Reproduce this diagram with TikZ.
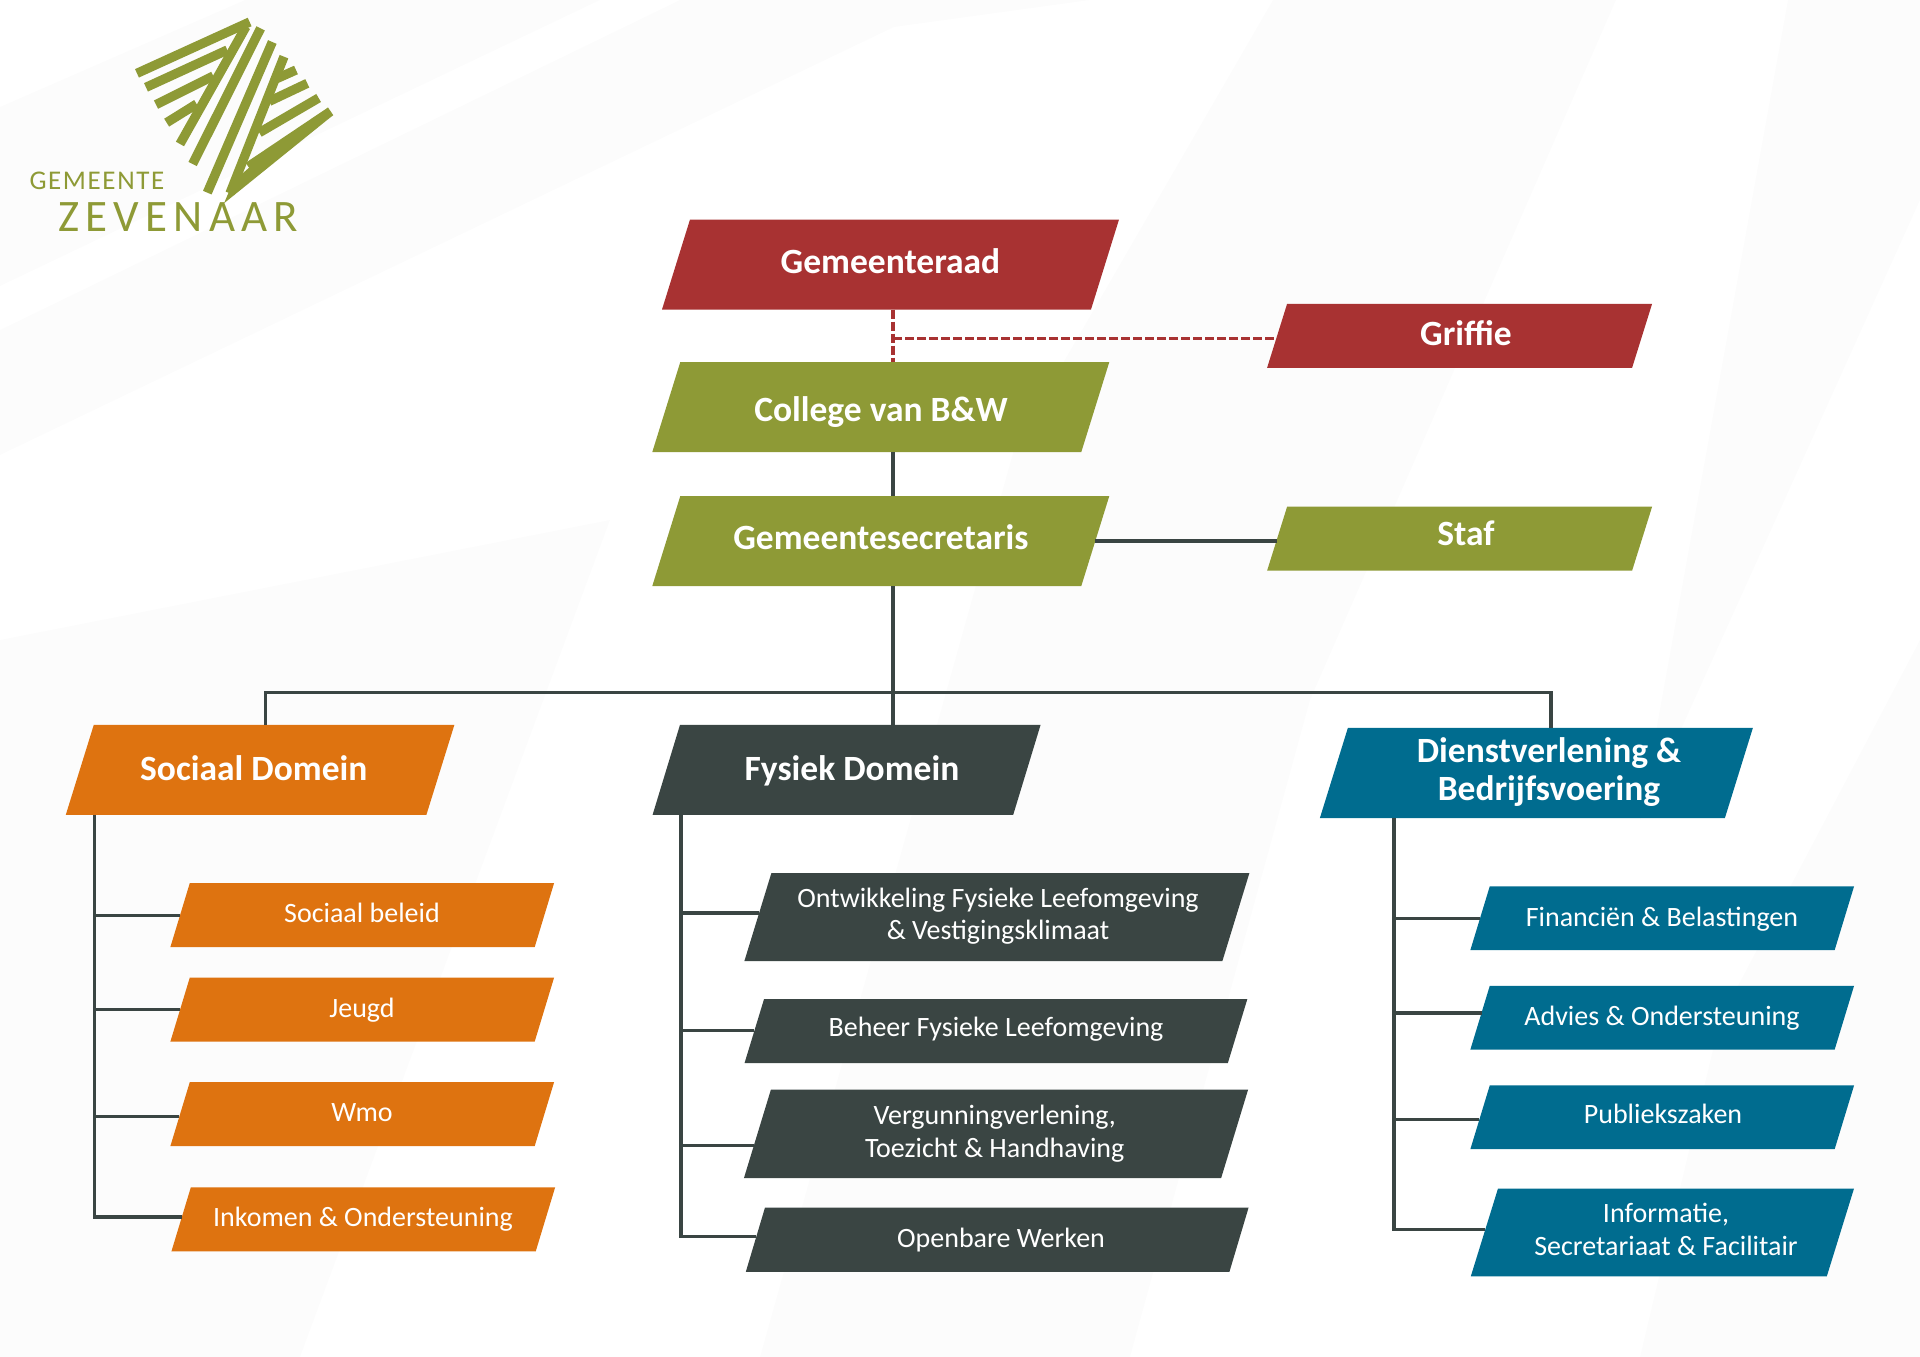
\documentclass[tikz,border=0pt]{standalone}
\usepackage{fontspec}
\setmainfont{Carlito}
\newfontfamily\logofont[LetterSpace=6]{Carlito}
\usetikzlibrary{calc}
\definecolor{raadred}{HTML}{A83232}
\definecolor{collegegreen}{HTML}{8E9A36}
\definecolor{socialorange}{HTML}{DE7310}
\definecolor{physicaldark}{HTML}{3A4543}
\definecolor{servicesblue}{HTML}{006C8F}
\definecolor{bandgrey}{HTML}{FCFCFC}
\tikzset{
	slantnode/.style={inner sep=0pt,outer sep=0pt},
	headtext/.style={text=white,align=center,font=\fontsize{35.5}{38}\selectfont\bfseries},
	subtext/.style={text=white,align=center,font=\fontsize{28}{32.5}\selectfont},
	linkline/.style={draw=physicaldark,line width=3.4pt},
	dashline/.style={draw=raadred,line width=3.2pt,dash pattern=on 9pt off 3pt},
	logostrip/.style={draw=collegegreen,line width=9.3pt},
}
\newcommand{\slantbox}[7]{%
	\node[slantnode,minimum width=#5pt,minimum height=#6pt] (#1) at (#3,#4) {};
	\fill[#2] ($(#1.north west)+(#7,0)$) -- ($(#1.north east)+(#7,0)$) -- ($(#1.south east)-(#7,0)$) -- ($(#1.south west)-(#7,0)$) -- cycle;
}
\begin{document}
\begin{tikzpicture}[x=1pt,y=-1pt]
	\useasboundingbox (0,0) rectangle (1920,1357);
	\begin{scope}
		\clip (0,0) rectangle (1920,1357);
		\fill[bandgrey] (245,0) -- (600,0) -- (0,286) -- (0,107) -- cycle;
		\fill[bandgrey] (680,0) -- (1090,0) -- (894,27) -- (0,455) -- (0,330) -- cycle;
		\fill[bandgrey] (1273,0) -- (1616,0) -- (1310,700) -- (1130,1357) -- (760,1357) -- (1015,446) -- cycle;
		\fill[bandgrey] (1788,0) -- (1920,0) -- (1920,200) -- (1640,820) -- cycle;
		\fill[bandgrey] (0,640) -- (610,520) -- (300,1357) -- (0,1357) -- cycle;
		\fill[bandgrey] (1920,640) -- (1920,1357) -- (1640,1357) -- (1720,1020) -- cycle;
	\end{scope}

	\begin{scope}[x=.3333pt,y=-.3333pt]
		\draw[logostrip] (749,66) -- (411,220);
		\draw[logostrip] (682,150) -- (438,262);
		\draw[logostrip] (640,228) -- (468,314);
		\draw[logostrip] (590,312) -- (500,368);
		\draw[logostrip] (738,80) -- (540,432);
		\draw[logostrip] (782,85) -- (578,492);
		\draw[logostrip] (817,126) -- (622,578);
		\draw[logostrip] (852,170) -- (690,580);
		\draw[logostrip] (830,236) -- (888,210);
		\draw[logostrip] (808,304) -- (922,250);
		\draw[logostrip] (778,398) -- (956,294);
		\draw[logostrip] (745,500) -- (992,334);
		\fill[collegegreen] (745,505) -- (1000,345) -- (672,610) -- (700,545) -- cycle;
		\node[anchor=west,inner sep=0pt,text=collegegreen,font=\logofont\fontsize{27}{27}\selectfont] (logotop) at (88,544) {GEMEENTE};
		\node[anchor=west,inner sep=0pt,text=collegegreen,font=\fontsize{45}{45}\selectfont\addfontfeatures{LetterSpace=14}] (logoname) at (174,652) {ZEVENAAR};
	\end{scope}

	\slantbox{raad}{raadred}{890.5}{264.5}{429}{90}{14}
	\slantbox{griffie}{raadred}{1459.6}{335.8}{365}{64}{10}
	\slantbox{college}{collegegreen}{880.8}{407}{429}{90}{14}
	\slantbox{secretaris}{collegegreen}{880.8}{541}{429}{90}{14}
	\slantbox{staf}{collegegreen}{1459.6}{538.7}{365}{64}{10}

	\slantbox{sociaal}{socialorange}{260.1}{769.8}{360.6}{90}{14}
	\slantbox{fysiek}{physicaldark}{846.6}{769.8}{360.6}{90}{13.7}
	\slantbox{dienst}{servicesblue}{1536.4}{772.9}{405}{90.2}{14}

	\slantbox{beleid}{socialorange}{362.2}{915.2}{364.3}{64}{9.7}
	\slantbox{jeugd}{socialorange}{362.2}{1009.7}{364.3}{64}{9.7}
	\slantbox{wmo}{socialorange}{362.2}{1114.2}{364.3}{64}{9.7}
	\slantbox{inkomen}{socialorange}{363.3}{1219.3}{364.3}{64}{9.7}

	\slantbox{ontwikkeling}{physicaldark}{996.9}{917}{478}{88}{13.5}
	\slantbox{beheer}{physicaldark}{995.9}{1031.2}{483.3}{64}{9.75}
	\slantbox{vergunning}{physicaldark}{996}{1133.9}{477.2}{88.6}{13.5}
	\slantbox{openbaar}{physicaldark}{997.2}{1239.7}{483.6}{64.4}{9.6}

	\slantbox{financien}{servicesblue}{1662.2}{918.2}{364.3}{63.8}{9.7}
	\slantbox{advies}{servicesblue}{1662.2}{1017.7}{364.3}{63.8}{9.7}
	\slantbox{publiek}{servicesblue}{1662.2}{1117.3}{364.3}{63.8}{9.7}
	\slantbox{informatie}{servicesblue}{1662.4}{1232.4}{356}{87.8}{13.6}

	\node[headtext] (raadtext) at (890.5,261) {Gemeenteraad};
	\node[headtext] (grifftext) at (1466,333.5) {Griffie};
	\node[headtext] (collegetext) at (881,412) {College van B\&W};
	\node[headtext] (secrtext) at (881,537) {Gemeentesecretaris};
	\node[headtext] (staftext) at (1466,533) {Staf};
	\node[headtext] (sociaaltext) at (253.8,768) {Sociaal Domein};
	\node[headtext] (fysiektext) at (852,770.6) {Fysiek Domein};
	\node[headtext] (diensttext) at (1549,772) {Dienstverlening \&\\Bedrijfsvoering};

	\node[subtext] (beleidtext) at (362,912.6) {Sociaal beleid};
	\node[subtext] (jeugdtext) at (362,1010) {Jeugd};
	\node[subtext] (wmotext) at (362,1112.6) {Wmo};
	\node[subtext] (inkomentext) at (363,1219) {Inkomen \& Ondersteuning};
	\node[subtext] (ontwtext) at (998,916.2) {Ontwikkeling Fysieke Leefomgeving\\\& Vestigingsklimaat};
	\node[subtext] (beheertext) at (996,1029.6) {Beheer Fysieke Leefomgeving};
	\node[subtext] (vergtext) at (994.7,1133.5) {Vergunningverlening,\\Toezicht \& Handhaving};
	\node[subtext] (opentext) at (1001,1240) {Openbare Werken};
	\node[subtext] (fintext) at (1662,919) {Financiën \& Belastingen};
	\node[subtext] (advtext) at (1662,1018.6) {Advies \& Ondersteuning};
	\node[subtext] (pubtext) at (1663,1114) {Publiekszaken};
	\node[subtext] (inftext) at (1666,1229.5) {Informatie,\\Secretariaat \& Facilitair};

	\coordinate (bushub) at (893,692.5);
	\coordinate (busleft) at (265.6,692.5);
	\coordinate (busright) at (1550.8,692.5);
	\coordinate (griffjoin) at (893,338.7);
	\coordinate (sidesoc) at (94.2,1218.8);
	\coordinate (sidefys) at (680.8,1237.5);
	\coordinate (sidedie) at (1394,1230.8);

	\draw[dashline] (raad.south -| bushub) -- (college.north -| bushub);
	\draw[dashline] (griffjoin) -- (griffjoin -| griffie.west);
	\draw[linkline] (college.south -| bushub) -- (secretaris.north -| bushub);
	\draw[linkline] (secretaris.south -| bushub) -- (fysiek.north -| bushub);
	\draw[linkline] (secretaris.east) -- (secretaris.east -| staf.west);
	\draw[linkline] (busleft |- sociaal.north) -- (busleft) -- (busright) -- (busright |- dienst.north);

	\draw[linkline] (sociaal.south -| sidesoc) -- (sidesoc);
	\draw[linkline] (fysiek.south -| sidefys) -- (sidefys);
	\draw[linkline] (dienst.south -| sidedie) -- (sidedie);
	\foreach \kid/\dy in {beleid/0,jeugd/0,wmo/2.5,inkomen/-2.4}
		\draw[linkline] (sidesoc |- {$(\kid.west)+(0,\dy)$}) -- ($(\kid.west)+({-.3*\dy},\dy)$);
	\foreach \kid/\dy in {ontwikkeling/-4.1,beheer/-.5,vergunning/11.5,openbaar/-3.4}
		\draw[linkline] (sidefys |- {$(\kid.west)+(0,\dy)$}) -- ($(\kid.west)+({-.3*\dy},\dy)$);
	\foreach \kid/\dy in {financien/0,advies/-4.8,publiek/2,informatie/-2.8}
		\draw[linkline] (sidedie |- {$(\kid.west)+(0,\dy)$}) -- ($(\kid.west)+({-.3*\dy},\dy)$);
\end{tikzpicture}
\end{document}
